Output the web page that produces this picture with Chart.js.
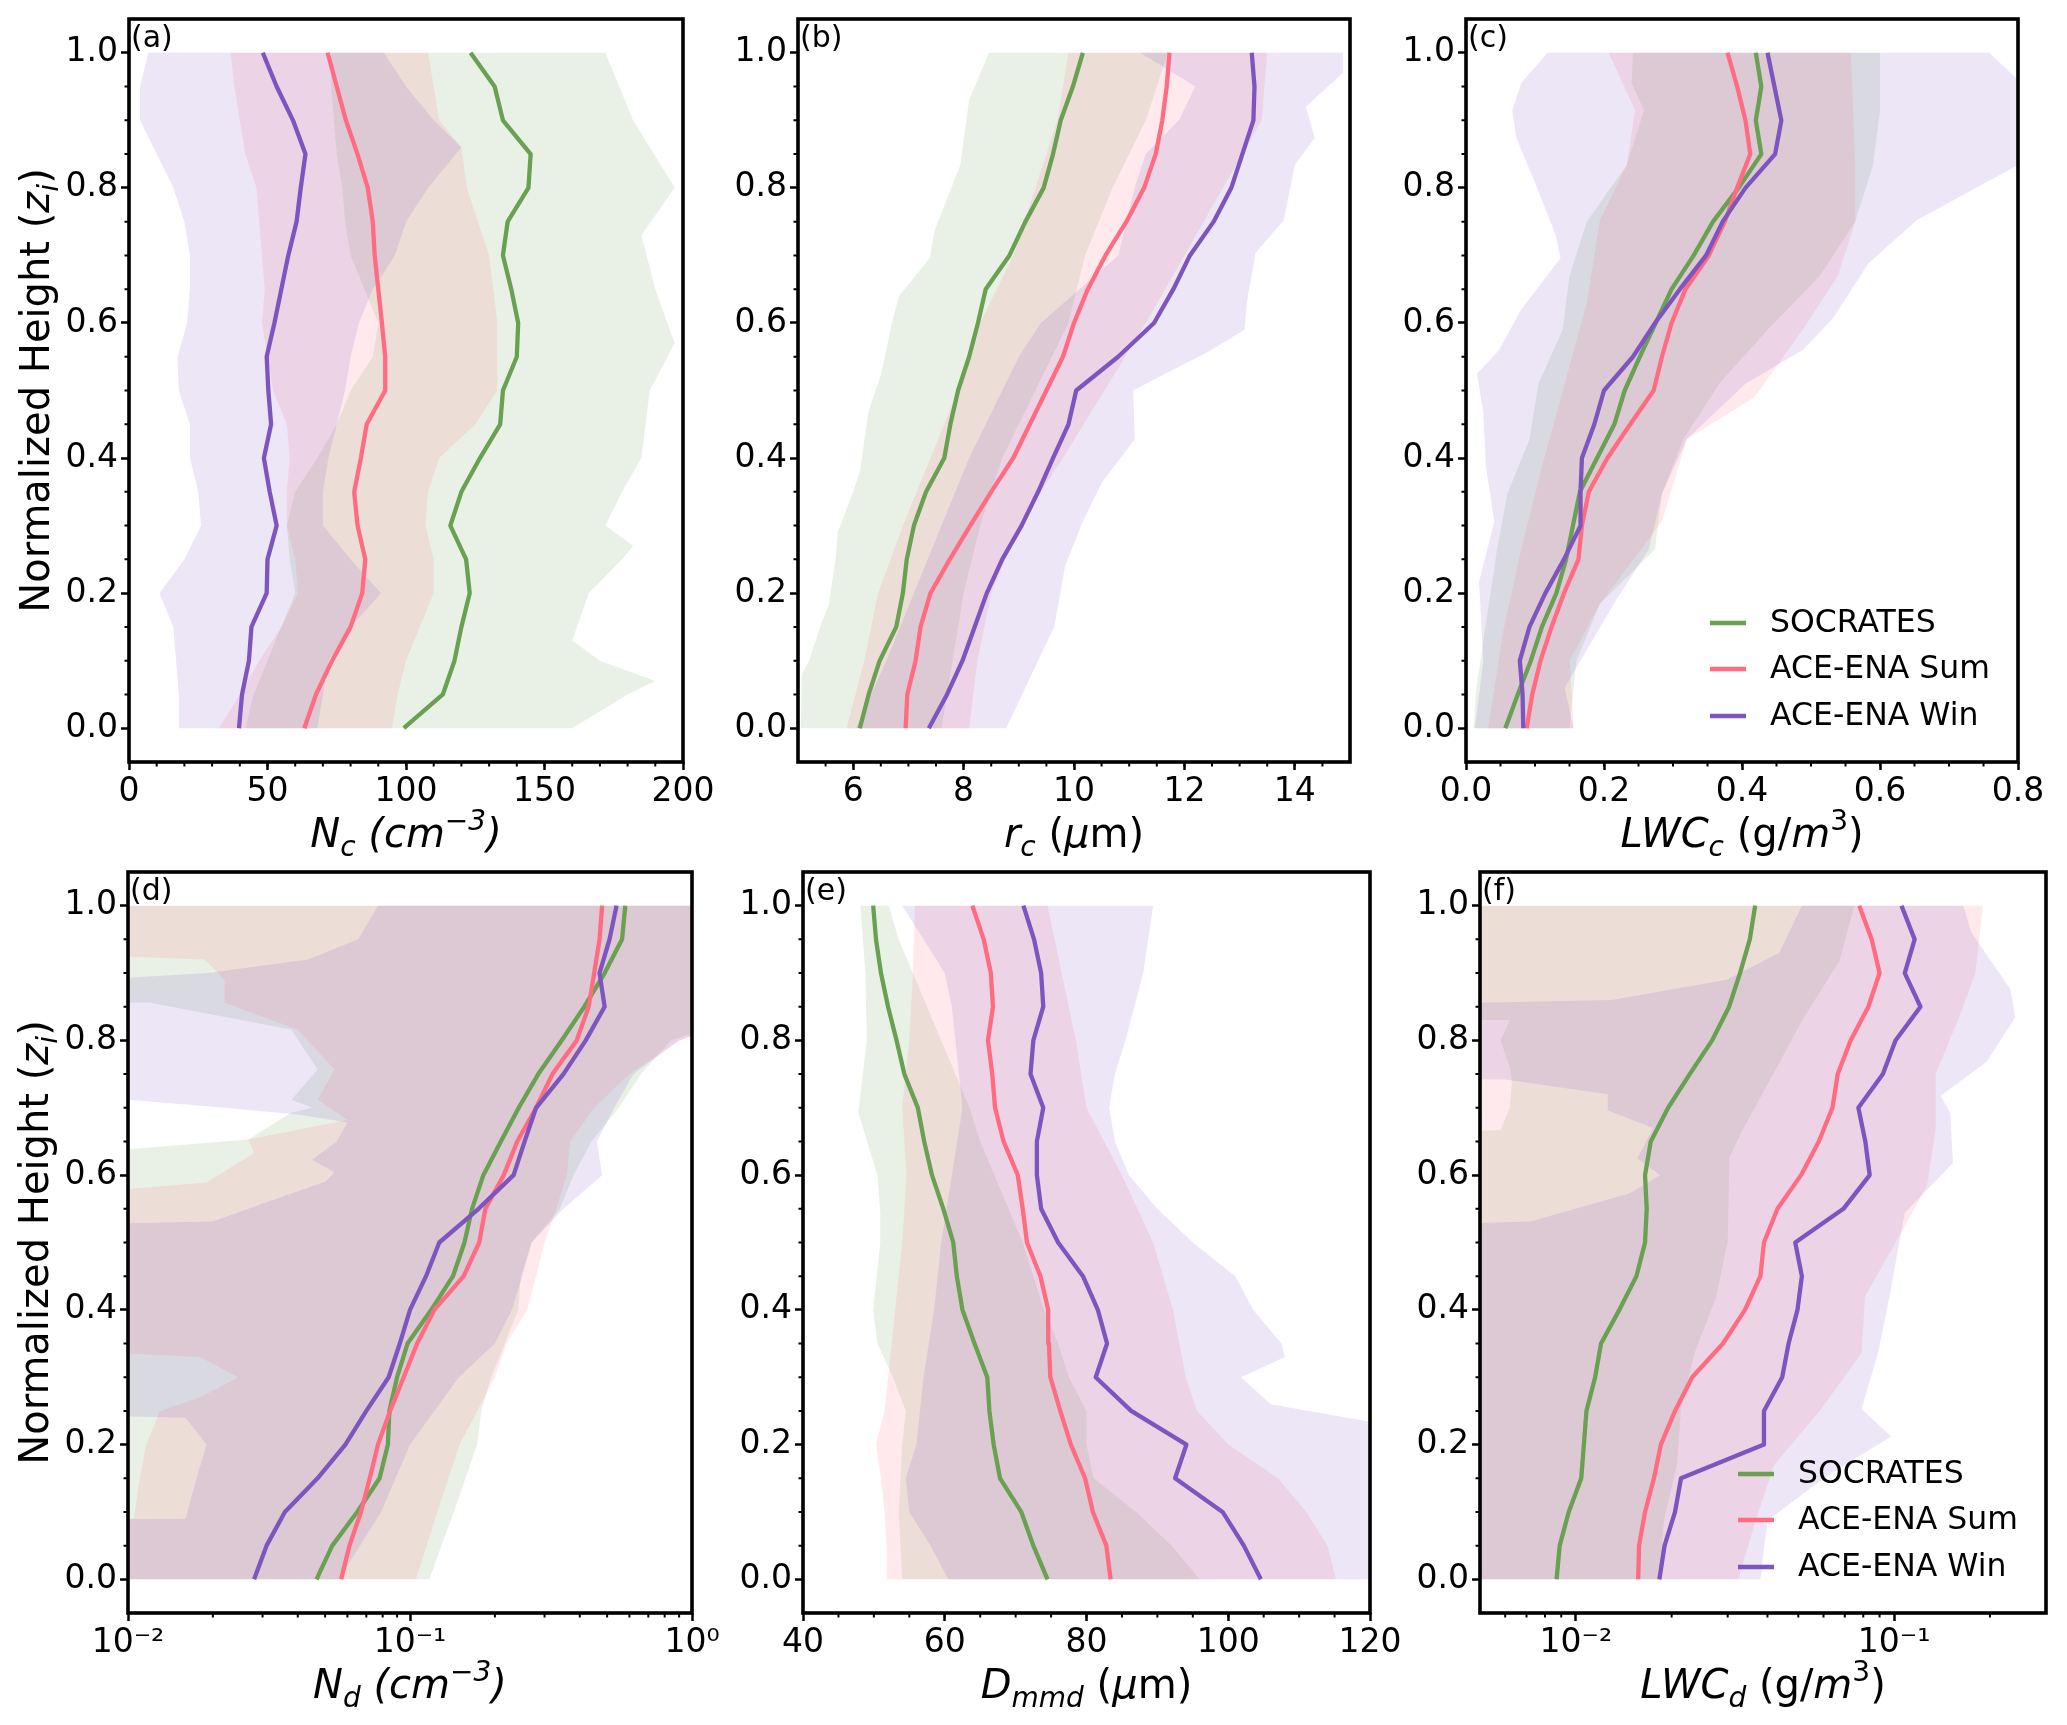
<!DOCTYPE html>
<html><head><meta charset="utf-8">
<script src="https://cdn.jsdelivr.net/npm/chart.js@4.4.1/dist/chart.umd.min.js"></script>
<style>
html,body{margin:0;padding:0;background:#fff;}
#wrap{position:relative;width:2067px;height:1725px;overflow:hidden;background:#fff;}
canvas{position:absolute;}
</style></head>
<body><div id="wrap"></div>
<script>
// ---------------- DATA ----------------
const SERIES = ['SOCRATES', 'ACE-ENA Sum', 'ACE-ENA Win'];
const HEIGHTS = [0,0.05,0.1,0.15,0.2,0.25,0.3,0.35,0.4,0.45,0.5,0.55,0.6,0.65,0.7,0.75,0.8,0.85,0.9,0.95,1];
const Y_TICKS = [0,0.2,0.4,0.6,0.8,1];
const Y_TICK_LABELS = ['0.0','0.2','0.4','0.6','0.8','1.0'];
const OFF = 0.001, BIG = 2;   // band edges lying beyond the log axis limits

// (a) Nc
const aTicks = [0,50,100,150,200];
const aTickLabels = ['0','50','100','150','200'];
const aSocMed = [99.2,113.3,117.5,120,123,121.7,116,120,126.7,134,135,140,140.5,138,135,136.7,144.2,145,135,132,123.3];
const aSumMed = [63.3,67.5,73.3,80,84.2,85.3,82.5,81.3,83.7,85.8,92.5,92.5,91.3,90,88.7,88,86.2,82.5,78.3,75,71.7];
const aWinMed = [39.7,40.8,43.3,44.2,49.7,50,53.3,50.8,48.7,51.3,50.3,49.7,52.5,55,57.5,60.5,62,63.7,59.2,53.3,48.3];
const aSocLo = [[0,42],[0.05,45],[0.1,50],[0.15,55],[0.2,60],[0.25,58],[0.3,57],[0.35,60],[0.4,68],[0.45,75],[0.5,80],[0.55,88],[0.6,90],[0.65,85],[0.7,80],[0.75,78],[0.8,77],[0.85,75],[0.9,74],[0.95,73],[1,73]];
const aSocHi = [[0,160],[0.05,180],[0.07,190],[0.1,170],[0.13,160],[0.2,166],[0.25,178],[0.27,182],[0.3,172],[0.35,178],[0.4,185],[0.5,188],[0.57,197],[0.65,190],[0.73,185],[0.8,197],[0.9,182],[1,172]];
const aSumLo = [[0,32.5],[0.05,40],[0.1,47],[0.15,55],[0.2,61],[0.25,60],[0.3,57],[0.35,57],[0.4,58],[0.45,57],[0.5,52],[0.55,50],[0.6,48],[0.65,49],[0.7,48],[0.8,46],[0.85,42],[0.9,40],[0.95,38],[1,36.7]];
const aSumHi = [[0,95],[0.05,97],[0.1,100],[0.15,105],[0.2,110],[0.25,110],[0.3,107],[0.35,108],[0.4,112],[0.45,125],[0.5,133],[0.6,133],[0.7,130],[0.8,122],[0.86,120],[0.9,112],[1,108]];
const aWinLo = [[0,18],[0.05,18],[0.1,17],[0.15,16],[0.2,11],[0.25,20],[0.3,26],[0.35,25],[0.4,22],[0.45,22],[0.5,18],[0.55,17.5],[0.6,21],[0.65,22],[0.7,22],[0.75,20],[0.8,16],[0.85,10],[0.9,4],[0.95,4],[1,7]];
const aWinHi = [[0,68],[0.05,70],[0.1,72],[0.15,80],[0.2,91],[0.25,80],[0.3,70],[0.35,70],[0.4,72],[0.45,75],[0.5,78],[0.55,80],[0.6,83],[0.65,88],[0.7,96],[0.75,100],[0.8,108],[0.86,120],[0.9,110],[0.95,100],[1,92]];

// (b) rc
const bTicks = [6,8,10,12,14];
const bTickLabels = ['6','8','10','12','14'];
const bSocMed = [6.12,6.28,6.48,6.78,6.9,6.97,7.1,7.32,7.65,7.76,7.9,8.1,8.26,8.4,8.83,9.12,9.45,9.62,9.76,9.98,10.16];
const bSumMed = [6.95,6.98,7.13,7.22,7.4,7.75,8.12,8.5,8.9,9.2,9.5,9.8,10.0,10.25,10.57,10.95,11.27,11.48,11.6,11.68,11.73];
const bWinMed = [7.37,7.7,7.98,8.2,8.42,8.7,9.05,9.35,9.62,9.9,10.04,10.8,11.45,11.8,12.1,12.53,12.85,13.05,13.25,13.27,13.22];
const bSocLo = [[0,5.05],[0.08,5.07],[0.1,5.2],[0.15,5.4],[0.184,5.56],[0.25,5.68],[0.29,5.72],[0.35,6.0],[0.38,6.12],[0.47,6.28],[0.525,6.51],[0.6,6.7],[0.64,6.83],[0.696,7.39],[0.736,7.47],[0.834,7.94],[0.93,8.1],[1,8.46]];
const bSocHi = [[0,7.6],[0.1,7.8],[0.2,8.0],[0.3,8.3],[0.4,8.7],[0.5,9.3],[0.6,9.9],[0.7,10.2],[0.8,10.7],[0.9,11.3],[1,11.7]];
const bSumLo = [[0,5.88],[0.1,6.2],[0.2,6.45],[0.3,6.9],[0.4,7.4],[0.5,7.9],[0.6,8.3],[0.7,8.9],[0.8,9.3],[0.9,9.7],[1,9.9]];
const bSumHi = [[0,8.1],[0.1,8.25],[0.2,8.5],[0.3,9.0],[0.4,9.8],[0.5,10.55],[0.6,11.3],[0.7,12.0],[0.8,12.7],[0.9,13.4],[1,13.5]];
const bWinLo = [[0,6.05],[0.1,6.6],[0.2,7.1],[0.3,7.6],[0.4,8.1],[0.5,8.7],[0.55,9.0],[0.6,9.4],[0.65,10.1],[0.7,10.8],[0.8,11.1],[0.85,11.3],[0.9,11.9],[0.95,12.2],[1,11.2]];
const bWinHi = [[0,8.77],[0.15,9.64],[0.24,9.84],[0.306,10.16],[0.363,10.5],[0.428,11.1],[0.5,11.07],[0.525,11.66],[0.558,12.45],[0.59,13.09],[0.63,13.13],[0.704,13.29],[0.752,13.8],[0.834,14.0],[0.874,14.36],[0.92,14.2],[0.97,14.87],[1,14.87]];

// (c) LWCc
const cTicks = [0,0.2,0.4,0.6,0.8];
const cTickLabels = ['0.0','0.2','0.4','0.6','0.8'];
const cSocMed = [0.057,0.075,0.094,0.11,0.131,0.145,0.155,0.165,0.19,0.215,0.23,0.252,0.275,0.298,0.33,0.358,0.395,0.428,0.42,0.428,0.42];
const cSumMed = [0.088,0.096,0.108,0.124,0.142,0.163,0.168,0.178,0.205,0.238,0.272,0.284,0.298,0.318,0.352,0.375,0.393,0.412,0.405,0.393,0.379];
const cWinMed = [0.083,0.082,0.078,0.092,0.115,0.142,0.166,0.166,0.168,0.186,0.2,0.242,0.274,0.31,0.348,0.372,0.405,0.448,0.457,0.447,0.437];
const cSocLo = [[0,0.011],[0.06,0.015],[0.265,0.045],[0.347,0.06],[0.428,0.092],[0.51,0.105],[0.59,0.14],[0.67,0.15],[0.75,0.175],[0.834,0.233],[0.915,0.258],[0.955,0.24],[1,0.242]];
const cSocHi = [[0,0.15],[0.1,0.16],[0.184,0.194],[0.265,0.274],[0.347,0.284],[0.428,0.315],[0.51,0.367],[0.59,0.437],[0.67,0.513],[0.75,0.564],[0.834,0.59],[0.915,0.6],[1,0.6]];
const cSumLo = [[0,0.032],[0.144,0.054],[0.265,0.08],[0.387,0.11],[0.51,0.143],[0.63,0.175],[0.752,0.194],[0.834,0.233],[0.915,0.245],[1,0.207]];
const cSumHi = [[0,0.156],[0.1,0.15],[0.184,0.194],[0.306,0.284],[0.428,0.32],[0.49,0.418],[0.59,0.488],[0.67,0.539],[0.75,0.564],[0.834,0.564],[0.915,0.561],[1,0.558]];
const cWinLo = [[0,0.013],[0.1,0.025],[0.217,0.019],[0.306,0.041],[0.387,0.029],[0.468,0.025],[0.525,0.016],[0.56,0.048],[0.62,0.08],[0.696,0.137],[0.73,0.13],[0.81,0.099],[0.874,0.073],[0.915,0.067],[0.955,0.08],[1,0.118]];
const cWinHi = [[0,0.156],[0.06,0.143],[0.184,0.214],[0.265,0.265],[0.347,0.284],[0.428,0.32],[0.51,0.405],[0.56,0.488],[0.607,0.532],[0.688,0.583],[0.752,0.653],[0.834,0.8],[0.915,0.8],[0.96,0.8],[1,0.758]];

// (d) Nd (log axis)
const dTicks = [0.01,0.1,1];
const dTickLabels = ['10\u207B\u00B2','10\u207B\u00B9','10\u2070'];
const dSocMed = [0.0466,0.053,0.065,0.078,0.0835,0.0845,0.09,0.098,0.119,0.142,0.156,0.166,0.182,0.21,0.243,0.285,0.345,0.415,0.49,0.565,0.58];
const dSumMed = [0.057,0.061,0.067,0.072,0.077,0.085,0.095,0.106,0.122,0.155,0.176,0.185,0.215,0.24,0.28,0.32,0.39,0.43,0.45,0.47,0.48];
const dWinMed = [0.028,0.031,0.036,0.047,0.059,0.07,0.084,0.092,0.1,0.114,0.127,0.175,0.233,0.255,0.28,0.35,0.42,0.49,0.47,0.51,0.54];
const dSocLo = [[0,OFF],[0.604,OFF],[0.653,0.0267],[0.693,0.038],[0.70,0.045],[0.712,0.038],[0.757,0.047],[0.816,0.038],[0.856,0.012],[0.86,OFF],[1,OFF]];
const dSocHi = [[0,0.117],[0.1,0.143],[0.2,0.173],[0.25,0.179],[0.3,0.194],[0.35,0.217],[0.4,0.242],[0.45,0.247],[0.5,0.27],[0.55,0.34],[0.6,0.38],[0.65,0.44],[0.7,0.55],[0.75,0.66],[0.8,0.84],[0.85,BIG],[1,BIG]];
const dSumLo = [[0,OFF],[0.085,OFF],[0.09,0.0105],[0.15,0.011],[0.2,0.0116],[0.25,0.013],[0.27,0.018],[0.3,0.0246],[0.33,0.018],[0.355,OFF],[0.545,OFF],[0.589,0.019],[0.633,0.028],[0.653,0.0267],[0.682,0.06],[0.712,0.047],[0.757,0.054],[0.816,0.040],[0.856,0.022],[0.89,0.022],[0.92,0.0187],[0.94,OFF],[1,OFF]];
const dSumHi = [[0,0.105],[0.1,0.125],[0.2,0.15],[0.3,0.2],[0.35,0.22],[0.4,0.26],[0.45,0.28],[0.5,0.3],[0.55,0.33],[0.6,0.36],[0.65,0.37],[0.7,0.45],[0.75,0.6],[0.8,0.9],[0.85,BIG],[1,BIG]];
const dWinLo = [[0,OFF],[0.085,OFF],[0.09,0.016],[0.15,0.0175],[0.2,0.019],[0.24,0.016],[0.25,OFF],[0.52,OFF],[0.531,0.02],[0.559,0.0306],[0.59,0.05],[0.604,0.054],[0.623,0.045],[0.65,0.055],[0.678,0.06],[0.69,0.04],[0.70,0.022],[0.712,0.01],[0.715,OFF],[0.89,OFF],[0.893,0.01],[0.90,0.0192],[0.92,0.0435],[0.95,0.0655],[1,0.077]];
const dWinHi = [[0,0.056],[0.1,0.079],[0.2,0.1],[0.3,0.149],[0.35,0.2],[0.4,0.23],[0.45,0.25],[0.5,0.27],[0.55,0.35],[0.6,0.48],[0.65,0.46],[0.7,0.53],[0.75,0.62],[0.8,0.9],[0.85,BIG],[1,BIG]];

// (e) Dmmd
const eTicks = [40,60,80,100,120];
const eTickLabels = ['40','60','80','100','120'];
const eSocMed = [74.5,72.5,70.8,67.8,66.9,66.3,66.0,64.2,62.5,61.7,61.2,59.8,58.2,57.1,56.2,54.3,53.2,52.0,51.0,50.3,49.9];
const eSumMed = [83.4,82.8,80.9,79.8,77.8,76.3,74.9,74.7,74.6,73.5,71.6,71.0,70.3,68.3,67.1,66.7,66.1,66.8,66.5,65.5,63.9];
const eWinMed = [104.6,102.2,99.2,92.5,94.1,86.3,81.3,82.9,81.6,79.5,76.0,73.6,73.0,73.0,73.9,72.1,72.5,73.9,73.6,72.6,71.1];
const eSocLo = [[0,54],[0.1,53.5],[0.2,54],[0.25,54.5],[0.3,52.7],[0.35,50.5],[0.4,49.9],[0.5,50.9],[0.544,50.9],[0.6,50.5],[0.693,47.8],[0.8,49.0],[0.9,48.8],[1,48.1]];
const eSocHi = [[0,96],[0.05,92],[0.1,87],[0.15,81],[0.2,80],[0.25,80],[0.3,77.5],[0.35,76],[0.4,74],[0.45,72.5],[0.5,71],[0.55,69],[0.6,67],[0.65,65],[0.7,63.5],[0.75,61.5],[0.8,59.5],[0.85,57.5],[0.9,55.5],[0.95,53.5],[1,52.1]];
const eSumLo = [[0,51.8],[0.05,51.8],[0.1,51.5],[0.15,51],[0.2,50.3],[0.25,51.5],[0.3,52],[0.4,53],[0.5,54],[0.6,54.6],[0.7,54],[0.8,55],[0.9,55.5],[1,55.8]];
const eSumHi = [[0,115.2],[0.05,114],[0.1,111],[0.15,107],[0.2,100],[0.25,95.6],[0.3,94],[0.4,92.2],[0.5,89.4],[0.6,85],[0.7,80],[0.8,78.5],[0.9,76.5],[1,74.5]];
const eWinLo = [[0,60.5],[0.05,58],[0.1,55],[0.15,54.5],[0.2,56],[0.3,57],[0.4,58.5],[0.5,59.5],[0.6,61],[0.7,62.5],[0.8,61.5],[0.85,61],[0.9,60],[0.95,57],[1,54]];
const eWinHi = [[0,125],[0.2,125],[0.23,122],[0.26,106],[0.3,101.8],[0.33,108],[0.35,107.5],[0.4,103.5],[0.45,101],[0.5,95],[0.55,90],[0.6,86],[0.65,84],[0.7,83.2],[0.75,84],[0.8,85.5],[0.9,88],[1,89.4]];

// (f) LWCd (log axis)
const fTicks = [0.01,0.1];
const fTickLabels = ['10\u207B\u00B2','10\u207B\u00B9'];
const fSocMed = [0.0087,0.0089,0.0095,0.0104,0.0106,0.0108,0.0115,0.012,0.0137,0.0155,0.0165,0.0167,0.0165,0.0172,0.0195,0.0228,0.0268,0.0303,0.0328,0.0352,0.0366];
const fSumMed = [0.0157,0.0158,0.0165,0.0176,0.0185,0.0205,0.0232,0.029,0.034,0.038,0.039,0.043,0.051,0.058,0.064,0.0665,0.073,0.083,0.09,0.085,0.0777];
const fWinMed = [0.0183,0.019,0.0205,0.0214,0.039,0.039,0.0445,0.0466,0.0497,0.0513,0.0489,0.0693,0.0838,0.0812,0.0772,0.0922,0.101,0.121,0.108,0.116,0.1055];
const fSocLo = [[0,OFF],[0.655,OFF],[0.667,0.0058],[0.7,0.0062],[0.74,0.0063],[0.76,0.0062],[0.8,0.0058],[0.83,0.0062],[0.835,OFF],[1,OFF]];
const fSocHi = [[0,0.0183],[0.087,0.0189],[0.17,0.0208],[0.253,0.0214],[0.336,0.0236],[0.419,0.0276],[0.502,0.03],[0.627,0.0304],[0.668,0.0335],[0.75,0.0417],[0.834,0.052],[0.917,0.0673],[1,0.075]];
const fSumLo = [[0,OFF],[1,OFF]];
const fSumHi = [[0,0.0324],[0.087,0.0367],[0.17,0.042],[0.253,0.059],[0.336,0.079],[0.42,0.081],[0.502,0.1016],[0.585,0.127],[0.668,0.135],[0.75,0.135],[0.834,0.16],[0.9,0.18],[1,0.19]];
const fWinLo = [[0,OFF],[0.52,OFF],[0.531,0.0072],[0.573,0.0148],[0.60,0.0184],[0.625,0.0156],[0.67,0.0175],[0.696,0.0126],[0.72,0.0126],[0.742,0.006],[0.745,OFF],[0.849,OFF],[0.86,0.013],[0.89,0.0298],[0.93,0.0436],[1,0.0513]];
const fWinHi = [[0,0.038],[0.087,0.04],[0.15,0.06],[0.17,0.07],[0.212,0.098],[0.253,0.079],[0.336,0.089],[0.419,0.0966],[0.502,0.104],[0.544,0.108],[0.618,0.153],[0.693,0.15],[0.718,0.14],[0.768,0.195],[0.834,0.24],[0.876,0.232],[0.92,0.2],[0.96,0.175],[1,0.165]];

// ---------------- STYLE / LAYOUT ----------------
const FONT = "'DejaVu Sans', 'Liberation Sans', sans-serif";
const COLORS = ['#69a052', '#ff6b81', '#7e55bf'];
const FILLS = ['rgba(106,159,84,0.15)', 'rgba(255,107,129,0.15)', 'rgba(126,87,194,0.15)'];
const TICK_FONT = 33, TITLE_FONT = 40, LABEL_FONT = 30, LEGEND_FONT = 31.5;
const LINE_W = 4.3;

const PANELS = [
  {tag:'(a)', area:[129,19,683,762], type:'linear', min:0, max:200, ticks:aTicks, labels:aTickLabels, minorStep:10,
   med:[aSocMed,aSumMed,aWinMed], lo:[aSocLo,aSumLo,aWinLo], hi:[aSocHi,aSumHi,aWinHi], yTitle:true, legend:false,
   xTitle:[{t:'N',it:1},{t:'c',it:1,sub:1},{t:' (cm',it:1},{t:'\u22123',it:1,sup:1},{t:')',it:1}]},
  {tag:'(b)', area:[798,19,1350,762], type:'linear', min:5, max:15, ticks:bTicks, labels:bTickLabels, minorStep:0.5,
   med:[bSocMed,bSumMed,bWinMed], lo:[bSocLo,bSumLo,bWinLo], hi:[bSocHi,bSumHi,bWinHi], yTitle:false, legend:false,
   xTitle:[{t:'r',it:1},{t:'c',it:1,sub:1},{t:' ('},{t:'\u03BC',it:1},{t:'m)'}]},
  {tag:'(c)', area:[1466,19,2018,762], type:'linear', min:0, max:0.8, ticks:cTicks, labels:cTickLabels, minorStep:0.05,
   med:[cSocMed,cSumMed,cWinMed], lo:[cSocLo,cSumLo,cWinLo], hi:[cSocHi,cSumHi,cWinHi], yTitle:false, legend:true,
   xTitle:[{t:'LWC',it:1},{t:'c',it:1,sub:1},{t:' (g/'},{t:'m',it:1},{t:'3',sup:1},{t:')'}]},
  {tag:'(d)', area:[128,872,692,1613], type:'logarithmic', min:0.01, max:1, ticks:dTicks, labels:dTickLabels, minorStep:0,
   med:[dSocMed,dSumMed,dWinMed], lo:[dSocLo,dSumLo,dWinLo], hi:[dSocHi,dSumHi,dWinHi], yTitle:true, legend:false,
   xTitle:[{t:'N',it:1},{t:'d',it:1,sub:1},{t:' (cm',it:1},{t:'\u22123',it:1,sup:1},{t:')',it:1}]},
  {tag:'(e)', area:[803,872,1370,1613], type:'linear', min:40, max:120, ticks:eTicks, labels:eTickLabels, minorStep:5,
   med:[eSocMed,eSumMed,eWinMed], lo:[eSocLo,eSumLo,eWinLo], hi:[eSocHi,eSumHi,eWinHi], yTitle:false, legend:false,
   xTitle:[{t:'D',it:1},{t:'mmd',it:1,sub:1},{t:' ('},{t:'\u03BC',it:1},{t:'m)'}]},
  {tag:'(f)', area:[1480,872,2046,1613], type:'logarithmic', min:0.005, max:0.3, ticks:fTicks, labels:fTickLabels, minorStep:0,
   med:[fSocMed,fSumMed,fWinMed], lo:[fSocLo,fSumLo,fWinLo], hi:[fSocHi,fSumHi,fWinHi], yTitle:false, legend:true,
   xTitle:[{t:'LWC',it:1},{t:'d',it:1,sub:1},{t:' (g/'},{t:'m',it:1},{t:'3',sup:1},{t:')'}]}
];
const Y_TITLE = [{t:'Normalized Height ('},{t:'z',it:1},{t:'i',it:1,sub:1},{t:')'}];

function drawRich(ctx, segs, x, y, size, rotate) {
  const parts = segs.map(s => {
    const sz = (s.sub || s.sup) ? size * 0.7 : size;
    const font = (s.it ? 'italic ' : '') + sz + 'px ' + FONT;
    ctx.font = font;
    return {t: s.t, font, w: ctx.measureText(s.t).width, dy: s.sub ? size * 0.22 : (s.sup ? -size * 0.42 : 0)};
  });
  const total = parts.reduce((a, p) => a + p.w, 0);
  ctx.save();
  ctx.translate(x, y);
  if (rotate) ctx.rotate(-Math.PI / 2);
  ctx.textBaseline = 'alphabetic'; ctx.textAlign = 'left'; ctx.fillStyle = '#000';
  let cx = -total / 2;
  parts.forEach(p => { ctx.font = p.font; ctx.fillText(p.t, cx, p.dy); cx += p.w; });
  ctx.restore();
}

function minorValues(P) {
  const out = [];
  if (P.type === 'logarithmic') {
    for (let e = -4; e <= 1; e++) for (let k = 2; k <= 9; k++) {
      const v = k * Math.pow(10, e);
      if (v > P.min * 1.0001 && v < P.max * 0.9999) out.push(v);
    }
  } else {
    const n = Math.round((P.max - P.min) / P.minorStep);
    for (let i = 1; i < n; i++) out.push(P.min + i * P.minorStep);
  }
  return out;
}
const Y_MINOR = [0.05,0.1,0.15,0.25,0.3,0.35,0.45,0.5,0.55,0.65,0.7,0.75,0.85,0.9,0.95];

const wrap = document.getElementById('wrap');
const YW = 150, XH = 125, PT = 30, PR = 45;

function buildPanel(P) {
  const [l, t, r, b] = P.area;
  const W = r - l + YW + PR, Ht = b - t + PT + XH;
  const cv = document.createElement('canvas');
  cv.width = W; cv.height = Ht;
  cv.style.left = (l - YW) + 'px'; cv.style.top = (t - PT) + 'px';
  cv.style.width = W + 'px'; cv.style.height = Ht + 'px';
  wrap.appendChild(cv);

  const datasets = [];
  [0, 1, 2].forEach(i => {
    datasets.push({
      label: SERIES[i],
      data: HEIGHTS.map((h, j) => ({x: P.med[i][j], y: h})),
      borderColor: COLORS[i], backgroundColor: COLORS[i],
      borderWidth: LINE_W, pointRadius: 0, fill: false, tension: 0, order: 3 - i,
      borderJoinStyle: 'round', borderCapStyle: 'butt'
    });
  });
  [0, 1, 2].forEach(i => {
    const pts = P.lo[i].map(([h, v]) => ({x: v, y: h}))
      .concat(P.hi[i].slice().reverse().map(([h, v]) => ({x: v, y: h})));
    datasets.push({
      label: SERIES[i] + ' range', data: pts, borderWidth: 0, borderColor: 'rgba(0,0,0,0)',
      backgroundColor: FILLS[i], fill: 'shape', pointRadius: 0, tension: 0, order: 6 - i
    });
  });

  const xMinor = minorValues(P);
  const deco = {
    id: 'deco',
    afterDraw(chart) {
      const {ctx, chartArea: a, scales: {x, y}} = chart;
      ctx.save();
      ctx.strokeStyle = '#000'; ctx.lineWidth = 2;
      ctx.beginPath();
      xMinor.forEach(v => {
        const px = x.getPixelForValue(v);
        if (px <= a.left + 1 || px >= a.right - 1) return;
        ctx.moveTo(px, a.bottom); ctx.lineTo(px, a.bottom + 4.5);
      });
      Y_MINOR.forEach(v => {
        const py = y.getPixelForValue(v);
        ctx.moveTo(a.left, py); ctx.lineTo(a.left - 4.5, py);
      });
      ctx.stroke();
      ctx.lineWidth = 3.6;
      ctx.strokeRect(a.left, a.top, a.right - a.left, a.bottom - a.top);
      // panel tag
      ctx.fillStyle = '#000'; ctx.textAlign = 'left'; ctx.textBaseline = 'alphabetic';
      ctx.font = LABEL_FONT + 'px ' + FONT;
      ctx.fillText(P.tag, a.left + 2, a.top + 28);
      // axis titles
      drawRich(ctx, P.xTitle, (a.left + a.right) / 2, a.bottom + 85, TITLE_FONT, false);
      if (P.yTitle) drawRich(ctx, Y_TITLE, a.left - 80, (a.top + a.bottom) / 2, TITLE_FONT, true);
      // legend
      if (P.legend) {
        const rows = [a.bottom - 139, a.bottom - 93, a.bottom - 46];
        [0, 1, 2].forEach(i => {
          const ds = chart.data.datasets[i];
          ctx.strokeStyle = ds.borderColor; ctx.lineWidth = LINE_W;
          ctx.beginPath(); ctx.moveTo(a.right - 308, rows[i]); ctx.lineTo(a.right - 272, rows[i]); ctx.stroke();
          ctx.fillStyle = '#000'; ctx.font = LEGEND_FONT + 'px ' + FONT; ctx.textBaseline = 'middle';
          ctx.fillText(ds.label, a.right - 248, rows[i] + 1);
        });
      }
      ctx.restore();
    }
  };

  new Chart(cv, {
    type: 'line',
    data: {datasets},
    options: {
      responsive: false, animation: false, devicePixelRatio: 1, events: [],
      layout: {padding: {left: 0, top: PT, right: PR, bottom: 0}},
      plugins: {legend: {display: false}, tooltip: {enabled: false}, title: {display: false}},
      scales: {
        x: {
          type: P.type, min: P.min, max: P.max, position: 'bottom',
          afterBuildTicks: s => { s.ticks = P.ticks.map(v => ({value: v})); },
          afterFit: s => { s.height = XH; s.paddingLeft = 0; s.paddingRight = 0; s.paddingTop = 0; s.paddingBottom = 0; },
          ticks: {autoSkip: false, maxRotation: 0, minRotation: 0, padding: 3, color: '#000',
                  font: {family: FONT, size: TICK_FONT}, callback: (v, i) => P.labels[i]},
          grid: {display: true, drawOnChartArea: false, drawTicks: true, tickLength: 8, tickWidth: 2.5, tickColor: '#000'},
          border: {display: false}
        },
        y: {
          type: 'linear', min: -0.05, max: 1.05, position: 'left',
          afterBuildTicks: s => { s.ticks = Y_TICKS.map(v => ({value: v})); },
          afterFit: s => { s.width = YW; s.paddingLeft = 0; s.paddingRight = 0; s.paddingTop = 0; s.paddingBottom = 0; },
          ticks: {autoSkip: false, padding: 3, color: '#000', font: {family: FONT, size: TICK_FONT},
                  callback: (v, i) => Y_TICK_LABELS[i]},
          grid: {display: true, drawOnChartArea: false, drawTicks: true, tickLength: 8, tickWidth: 2.5, tickColor: '#000'},
          border: {display: false}
        }
      }
    },
    plugins: [deco]
  });
}

PANELS.forEach(buildPanel);
</script>
</body></html>
